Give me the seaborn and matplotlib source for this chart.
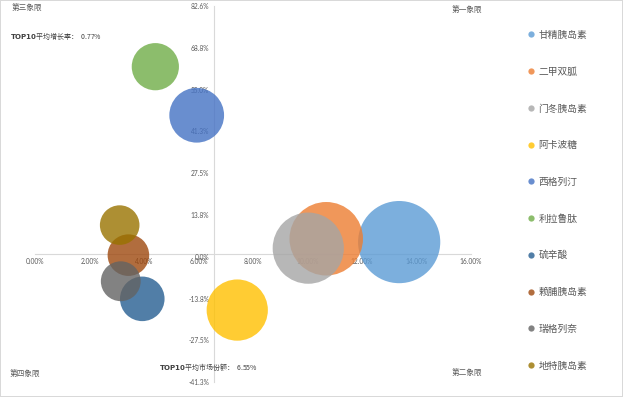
import numpy as np
import pandas as pd
import seaborn as sns
import matplotlib.pyplot as plt
from matplotlib.lines import Line2D

names = ["甘精胰岛素", "二甲双胍", "门冬胰岛素", "阿卡波糖", "西格列汀",
         "利拉鲁肽", "硫辛酸", "赖脯胰岛素", "瑞格列奈", "地特胰岛素"]
share = [13.37, 10.69, 10.03, 7.42, 5.93, 4.41, 3.93, 3.42, 3.14, 3.10]   # 市场份额 %
growth = [4.8, 5.9, 2.8, -17.6, 46.6, 62.6, -13.9, 0.5, -8.1, 10.4]     # 增长率 %
colors = ["#5B9BD5", "#ED7D31", "#A5A5A5", "#FFC000", "#4472C4",
          "#70AD47", "#255E91", "#9E480E", "#636363", "#997300"]
x_ticks = [0, 2, 4, 6, 8, 10, 12, 14, 16]
y_ticks = [-41.3, -27.5, -13.8, 0.0, 13.8, 27.5, 41.3, 55.0, 68.8, 82.6]
avg_share = 6.55
avg_growth = 0.77

sns.set_style("white")
plt.rcParams['font.family'] = ['Noto Sans CJK SC', 'DejaVu Sans']
plt.rcParams['axes.unicode_minus'] = False

df = pd.DataFrame({"name": names, "share": share, "growth": growth})
# bubble area proportional to market share
area = dict(zip(names, [262 * v for v in share]))

fig = plt.figure(figsize=(6.23, 3.97), dpi=100, facecolor="white",
                 edgecolor="#D9D9D9", linewidth=1.2)
ax = fig.add_axes([0.0567, 0.0378, 0.6989, 0.9471])

sns.scatterplot(data=df, x="share", y="growth", hue="name", palette=colors,
                size="name", sizes=area, alpha=0.8, edgecolor="none",
                legend=False, ax=ax, clip_on=False)

ax.set_xlim(0, 16)
ax.set_ylim(-41.3, 82.6)
ax.set_xlabel("")
ax.set_ylabel("")

# axes cross at the TOP10 averages
for sp in ["top", "right"]:
    ax.spines[sp].set_visible(False)
ax.spines["bottom"].set_position(("data", avg_growth))
ax.spines["left"].set_position(("data", avg_share))
for sp in ["bottom", "left"]:
    ax.spines[sp].set_color("#D9D9D9")
    ax.spines[sp].set_linewidth(0.8)
    ax.spines[sp].set_zorder(0)

ax.set_xticks(x_ticks)
ax.set_xticklabels([f"{v:.2f}%" for v in x_ticks])
ax.set_yticks(y_ticks)
ax.set_yticklabels([f"{v:.1f}%" for v in y_ticks])
ax.tick_params(length=0, labelsize=4.8, labelcolor="#595959", pad=3)
for lab in ax.get_xticklabels() + ax.get_yticklabels():
    lab.set_family(["Lato", "DejaVu Sans"])

tc = "#595959"
fig.text(12 / 623, 1 - 8 / 397, "第三象限", fontsize=5.5, color=tc, va="center")
fig.text(452 / 623, 1 - 10 / 397, "第一象限", fontsize=5.5, color=tc, va="center")
fig.text(10 / 623, 1 - 374 / 397, "第四象限", fontsize=5.5, color=tc, va="center")
fig.text(452 / 623, 1 - 373 / 397, "第二象限", fontsize=5.5, color=tc, va="center")
fig.text(10 / 623, 1 - 36 / 397, "$\\bf{TOP10}$平均增长率：  0.77%", fontsize=5,
         color="#404040", va="center")
fig.text(159 / 623, 1 - 367 / 397, "$\\bf{TOP10}$平均市场份额：  6.55%", fontsize=5,
         color="#404040", va="center")

handles = [Line2D([], [], marker="o", linestyle="", markersize=4.5,
                  markerfacecolor=c, markeredgecolor="none", alpha=0.8)
           for c in colors]
fig.legend(handles, names, loc="upper left", bbox_to_anchor=(522 / 623, 1 - 26 / 397),
           frameon=False, fontsize=7, labelcolor="#595959", labelspacing=2.75,
           handletextpad=0.3, handlelength=1, borderaxespad=0)

fig.savefig("out.png", dpi=100, facecolor=fig.get_facecolor(),
            edgecolor=fig.get_edgecolor())
